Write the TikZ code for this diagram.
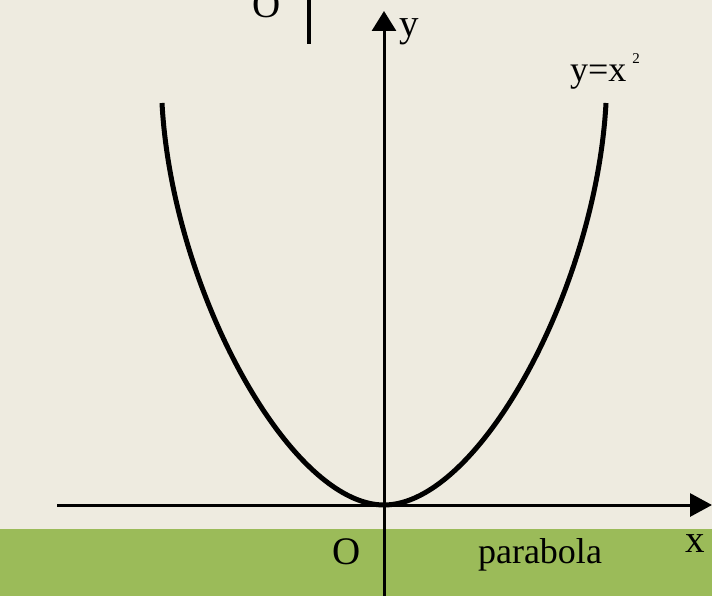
\documentclass[tikz,border=0pt]{standalone}
\usepackage{fontspec}
\setmainfont{Liberation Serif}
\usetikzlibrary{arrows.meta}
\definecolor{paper}{HTML}{EEEBE0}
\definecolor{band}{HTML}{9BBB59}

\begin{document}
\begin{tikzpicture}[x=1pt, y=-1pt, lbl/.style={font=\fontsize{39}{42}\selectfont, inner sep=0pt, anchor=base}]
	\fill[paper] (0,0) rectangle (712,596);
	\fill[band] (0,529) rectangle (712,596);
	\useasboundingbox (0,0) rectangle (712,596);
	\coordinate (xl) at (57,505); \coordinate (xr) at (712,505);
	\coordinate (yb) at (384,596); \coordinate (yt) at (384,11);
	\coordinate (bart) at (309,0); \coordinate (barb) at (309,44);
	\coordinate (pl) at (162,103); \coordinate (vx) at (384,505); \coordinate (pr) at (606,103);
	\draw[line width=3pt, -{Triangle[length=22pt, width=23pt]}] (xl) -- (xr);
	\draw[line width=3pt, -{Triangle[length=20pt, width=24pt]}] (yb) -- (yt);
	\draw[line width=4pt] (bart) -- (barb);
	\draw[line width=5pt] (pl) .. controls (172,290) and (290,505) .. (vx)
		.. controls (478,505) and (596,290) .. (pr);
	\node[lbl] (ytop) at (409,37) {y};
	\node[lbl] (otop) at (267,18) {O};
	\node[lbl, font=\fontsize{36}{40}\selectfont] (eq) at (605,82) {y=x\,\raisebox{18pt}{\fontsize{15}{15}\selectfont 2}};
	\node[lbl] (orig) at (347,564) {O};
	\node[lbl, font=\fontsize{36}{40}\selectfont] (name) at (540,563) {parabola};
	\node[lbl] (xlab) at (695,552) {x};
\end{tikzpicture}
\end{document}
